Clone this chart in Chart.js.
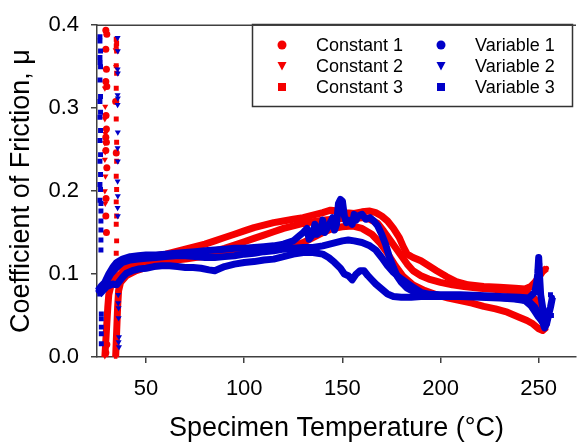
<!DOCTYPE html>
<html>
<head>
<meta charset="utf-8">
<script src="https://cdn.jsdelivr.net/npm/chart.js@4/dist/chart.umd.min.js"></script>
<style>
  body { margin: 0; background: #fff; }
  canvas { display: block; }
</style>
</head>
<body>
<canvas id="myChart" width="580" height="443"></canvas>
<script>
// tick labels
const xTicks = [50, 100, 150, 200, 250];
const yTicks = [0, 0.1, 0.2, 0.3, 0.4];

// main traces, [temperature, mu]
const constant1 = [[30,0.09],[32,0.1],[35,0.108],[40,0.113],[45,0.117],[50,0.12],[55,0.122],[60,0.124],[65,0.127],[70,0.13],[75,0.133],[80,0.136],[85,0.14],[90,0.144],[95,0.148],[100,0.152],[105,0.156],[110,0.159],[115,0.162],[120,0.164],[125,0.166],[130,0.168],[135,0.171],[140,0.174],[144,0.177],[148,0.176],[152,0.174],[156,0.173],[160,0.175],[164,0.176],[167,0.174],[170,0.17],[173,0.164],[176,0.155],[179,0.144],[181,0.133],[183,0.124],[186,0.12],[190,0.116],[194,0.11],[198,0.104],[203,0.097],[208,0.091],[214,0.087],[222,0.085],[230,0.084],[238,0.083],[243,0.082],[246,0.085],[248,0.09],[250,0.096],[252,0.103],[254,0.107]];
const constant2 = [[29,0.0],[29.5,0.02],[30,0.04],[30.5,0.06],[31,0.075],[32,0.085],[34,0.095],[37,0.1],[40,0.108],[45,0.113],[50,0.116],[55,0.118],[60,0.12],[65,0.121],[70,0.123],[75,0.124],[80,0.126],[85,0.128],[90,0.131],[95,0.135],[100,0.139],[105,0.143],[110,0.147],[115,0.151],[120,0.155],[125,0.158],[130,0.161],[135,0.163],[140,0.165],[145,0.166],[150,0.167],[155,0.167],[160,0.168],[164,0.166],[168,0.161],[171,0.152],[174,0.142],[177,0.132],[180,0.122],[183,0.112],[186,0.104],[190,0.098],[194,0.094],[200,0.09],[206,0.087],[212,0.085],[220,0.083],[230,0.081],[240,0.079],[245,0.077],[248,0.07],[250,0.058],[252,0.048],[254,0.042]];
const constant3 = [[34.5,0.0],[35,0.03],[35.5,0.06],[36,0.08],[37,0.09],[40,0.098],[45,0.104],[50,0.108],[55,0.112],[60,0.115],[65,0.117],[70,0.118],[75,0.12],[80,0.121],[85,0.122],[90,0.124],[95,0.126],[100,0.128],[105,0.129],[110,0.13],[115,0.131],[120,0.132],[125,0.134],[130,0.138],[135,0.144],[140,0.15],[145,0.155],[150,0.157],[155,0.158],[160,0.155],[165,0.148],[169,0.138],[173,0.125],[177,0.11],[181,0.097],[186,0.087],[192,0.08],[198,0.075],[204,0.071],[210,0.068],[216,0.065],[222,0.061],[228,0.058],[234,0.054],[240,0.048],[244,0.044],[247,0.04],[250,0.034],[252,0.032],[254,0.036]];
const variable1 = [[25.5,0.08],[27,0.085],[29,0.09],[31,0.1],[33,0.108],[35,0.114],[38,0.118],[42,0.121],[46,0.122],[50,0.123],[55,0.123],[60,0.124],[65,0.125],[70,0.126],[75,0.127],[80,0.128],[85,0.129],[90,0.13],[95,0.131],[100,0.131],[105,0.132],[110,0.133],[115,0.134],[120,0.136],[125,0.14],[128,0.146],[130,0.15],[132,0.155],[133,0.142],[135,0.148],[136,0.16],[137,0.148],[139,0.152],[140,0.165],[141,0.15],[143,0.158],[145,0.168],[146,0.153],[147,0.16],[148,0.185],[149,0.19],[150,0.188],[151,0.17],[152,0.162],[153,0.165],[155,0.16],[156,0.172],[157,0.165],[158,0.17],[160,0.172],[162,0.166],[164,0.168],[166,0.164],[168,0.158],[170,0.148],[172,0.136],[174,0.12],[176,0.108],[178,0.097],[180,0.09],[183,0.083],[187,0.078],[192,0.076],[200,0.075],[210,0.075],[220,0.074],[230,0.073],[240,0.072],[245,0.071],[248,0.078],[249,0.09],[249.5,0.1],[250,0.12],[250.5,0.095],[251,0.075],[252,0.06],[253,0.05],[254,0.044],[255,0.05],[256,0.06],[257,0.072]];
const variable2 = [[26,0.078],[28,0.085],[30,0.092],[32,0.1],[35,0.108],[38,0.114],[42,0.117],[46,0.118],[50,0.119],[55,0.12],[60,0.121],[65,0.122],[70,0.122],[75,0.121],[80,0.12],[85,0.12],[90,0.121],[95,0.122],[100,0.124],[105,0.125],[110,0.127],[115,0.128],[120,0.13],[125,0.131],[130,0.132],[135,0.132],[140,0.134],[145,0.137],[150,0.14],[153,0.141],[156,0.14],[160,0.138],[164,0.134],[167,0.129],[170,0.12],[173,0.11],[176,0.102],[179,0.096],[182,0.091],[186,0.084],[190,0.078],[195,0.075],[200,0.074],[210,0.073],[220,0.073],[230,0.072],[240,0.07],[245,0.067],[248,0.06],[250,0.052],[252,0.042],[253,0.035],[254,0.04]];
const variable3 = [[26,0.075],[28,0.08],[30,0.085],[33,0.088],[35,0.087],[36,0.09],[38,0.096],[40,0.101],[43,0.104],[46,0.106],[50,0.107],[54,0.109],[58,0.11],[62,0.11],[66,0.109],[70,0.108],[74,0.108],[78,0.107],[82,0.105],[85,0.104],[87,0.106],[90,0.109],[95,0.112],[100,0.114],[105,0.115],[110,0.117],[115,0.118],[120,0.121],[125,0.124],[130,0.126],[135,0.126],[140,0.124],[143,0.12],[146,0.114],[149,0.107],[151,0.1],[153,0.098],[155,0.093],[157,0.1],[159,0.104],[161,0.104],[163,0.098],[165,0.093],[167,0.088],[170,0.082],[173,0.076],[176,0.073],[180,0.072],[185,0.072],[190,0.073],[200,0.073],[210,0.073],[220,0.072],[230,0.071],[238,0.07],[243,0.068],[246,0.062],[248,0.055],[250,0.048],[252,0.042],[254,0.04],[255,0.05]];

// start-up scatter (loose points)
const constant1Start = [[29.5,0.394],[30,0.389],[29.5,0.371],[29.8,0.347],[29.5,0.332],[30,0.326],[29.6,0.291],[29.8,0.275],[29.5,0.265],[29.8,0.259],[29.5,0.249],[30,0.228],[29.6,0.191],[29.5,0.17],[29.8,0.15],[34.5,0.308],[34.8,0.246],[29.5,0.005],[30,0.015]];
const constant2Start = [[29,0.324],[29.2,0.302],[29,0.287],[29.3,0.269],[29,0.258],[29.2,0.247],[29,0.238],[29.3,0.218],[29,0.2],[29.2,0.185],[34.5,0.37],[34.7,0.35]];
const constant3Start = [[34.8,0.383],[35,0.378],[34.8,0.375],[35,0.369],[34.8,0.351],[35,0.342],[34.8,0.324],[35,0.308],[34.8,0.287],[35,0.259],[34.8,0.247],[35,0.236],[34.8,0.218],[35,0.202],[34.8,0.187],[35,0.17],[34.8,0.16],[35,0.14],[34.8,0.125]];
const variable2Start = [[35.5,0.385],[35.6,0.369],[35.5,0.347],[35.6,0.342],[35.5,0.316],[35.6,0.312],[35.5,0.304],[35.6,0.271],[35.5,0.252],[35.6,0.236],[35.5,0.212],[35.6,0.194],[35.5,0.18],[35.6,0.17],[35.8,0.075],[35.8,0.065],[36,0.059],[36,0.047],[36.2,0.024],[36,0.018],[36.2,0.012]];
const variable3Start = [[26.5,0.386],[26.5,0.381],[26.8,0.369],[26.5,0.361],[26.6,0.355],[26.8,0.35],[26.5,0.334],[26.8,0.314],[26.5,0.308],[26.8,0.295],[26.5,0.289],[26.8,0.273],[26.5,0.261],[26.8,0.244],[26.5,0.236],[26.8,0.22],[26.5,0.208],[26.8,0.202],[26.5,0.189],[27,0.185],[27,0.176],[27,0.164],[27,0.153],[27,0.141],[27,0.129],[27.2,0.052],[27.2,0.046],[27.2,0.036],[27.2,0.028],[27.2,0.016],[256,0.075],[256.5,0.068],[256,0.058],[256.5,0.05]];
const variable1Start = [[250,0.112],[249.8,0.105]];

const RED = "rgb(245,0,0)";
const BLUE = "rgb(0,0,200)";
const FONT = "'Liberation Sans', Arial, sans-serif";

const series = [
  { label: "Constant 1", path: constant1, start: constant1Start, color: RED, style: "circle", order: 2 },
  { label: "Constant 2", path: constant2, start: constant2Start, color: RED, style: "triangle", order: 2 },
  { label: "Constant 3", path: constant3, start: constant3Start, color: RED, style: "rect", order: 2 },
  { label: "Variable 1", path: variable1, start: variable1Start, color: BLUE, style: "circle", order: 1 },
  { label: "Variable 2", path: variable2, start: variable2Start, color: BLUE, style: "triangle", order: 1 },
  { label: "Variable 3", path: variable3, start: variable3Start, color: BLUE, style: "rect", order: 1 },
];

const toXY = arr => arr.map(p => ({ x: p[0], y: p[1] }));

const datasets = [];
series.forEach(s => {
  const common = {
    borderColor: s.color,
    backgroundColor: s.color,
    pointStyle: s.style,
    rotation: s.style === "triangle" ? 180 : 0,
    pointBorderWidth: 0,
    order: s.order,
    clip: 6,
  };
  datasets.push(Object.assign({}, common, {
    label: s.label,
    data: toXY(s.path),
    showLine: true,
    borderWidth: 7,
    borderJoinStyle: "round",
    pointRadius: 2.5,
  }));
  datasets.push(Object.assign({}, common, {
    label: s.label + " start",
    data: toXY(s.start),
    showLine: false,
    pointRadius: 3.5,
  }));
});

// legend box drawn inside the plot, two columns
const boxLegend = {
  id: "boxLegend",
  afterDraw(chart) {
    const ctx = chart.ctx;
    ctx.save();
    ctx.strokeStyle = "#333";
    ctx.lineWidth = 1.5;
    ctx.strokeRect(252.5, 24.5, 320, 82);
    ctx.font = "18px " + FONT;
    ctx.textBaseline = "middle";
    ctx.fillStyle = "#000";
    series.forEach((s, i) => {
      const col = Math.floor(i / 3), row = i % 3;
      const mx = 282 + col * 159, my = 45 + row * 21;
      ctx.fillStyle = s.color;
      ctx.beginPath();
      if (s.style === "circle") {
        ctx.arc(mx, my, 4.5, 0, Math.PI * 2);
      } else if (s.style === "triangle") {
        ctx.moveTo(mx - 4.5, my - 4);
        ctx.lineTo(mx + 4.5, my - 4);
        ctx.lineTo(mx, my + 4.5);
        ctx.closePath();
      } else {
        ctx.rect(mx - 4, my - 4, 8, 8);
      }
      ctx.fill();
      ctx.fillStyle = "#000";
      ctx.fillText(s.label, mx + 34, my + 1);
    });
    // top frame line
    const a = chart.chartArea;
    ctx.strokeStyle = "#404040";
    ctx.beginPath();
    ctx.moveTo(a.left, a.top);
    ctx.lineTo(a.right, a.top);
    ctx.stroke();
    ctx.restore();
  }
};

const ctx = document.getElementById("myChart");

new Chart(ctx, {
  type: "scatter",
  data: { datasets: datasets },
  options: {
    responsive: false,
    animation: false,
    layout: { padding: { top: 17, right: 0, bottom: 0, left: 0 } },
    plugins: { legend: { display: false }, tooltip: { enabled: false } },
    scales: {
      x: {
        type: "linear",
        min: 25,
        max: 269,
        afterFit: s => { s.height = 86; },
        afterBuildTicks: s => { s.ticks = xTicks.map(v => ({ value: v })); },
        ticks: { font: { size: 22, family: FONT }, color: "#000", padding: 13, maxRotation: 0 },
        grid: { drawOnChartArea: false, drawTicks: true, tickLength: 6, color: "#404040", lineWidth: 1.5 },
        border: { color: "#404040", width: 1.5 },
        title: { display: true, text: "Specimen Temperature (°C)", font: { size: 27, family: FONT, lineHeight: 1.05 }, color: "#000", padding: { top: 0, bottom: 0 } },
      },
      y: {
        min: 0,
        max: 0.4,
        afterFit: s => { s.width = 97; },
        afterBuildTicks: s => { s.ticks = yTicks.map(v => ({ value: v })); },
        ticks: { font: { size: 22, family: FONT }, color: "#000", padding: 12, callback: v => v.toFixed(1) },
        grid: { drawOnChartArea: false, drawTicks: true, tickLength: 6, color: "#404040", lineWidth: 1.5 },
        border: { color: "#404040", width: 1.5 },
        title: { display: true, text: "Coefficient of Friction, μ", font: { size: 27, family: FONT }, color: "#000", padding: { top: 5, bottom: 0 } },
      },
    },
  },
  plugins: [boxLegend],
});
</script>
</body>
</html>
